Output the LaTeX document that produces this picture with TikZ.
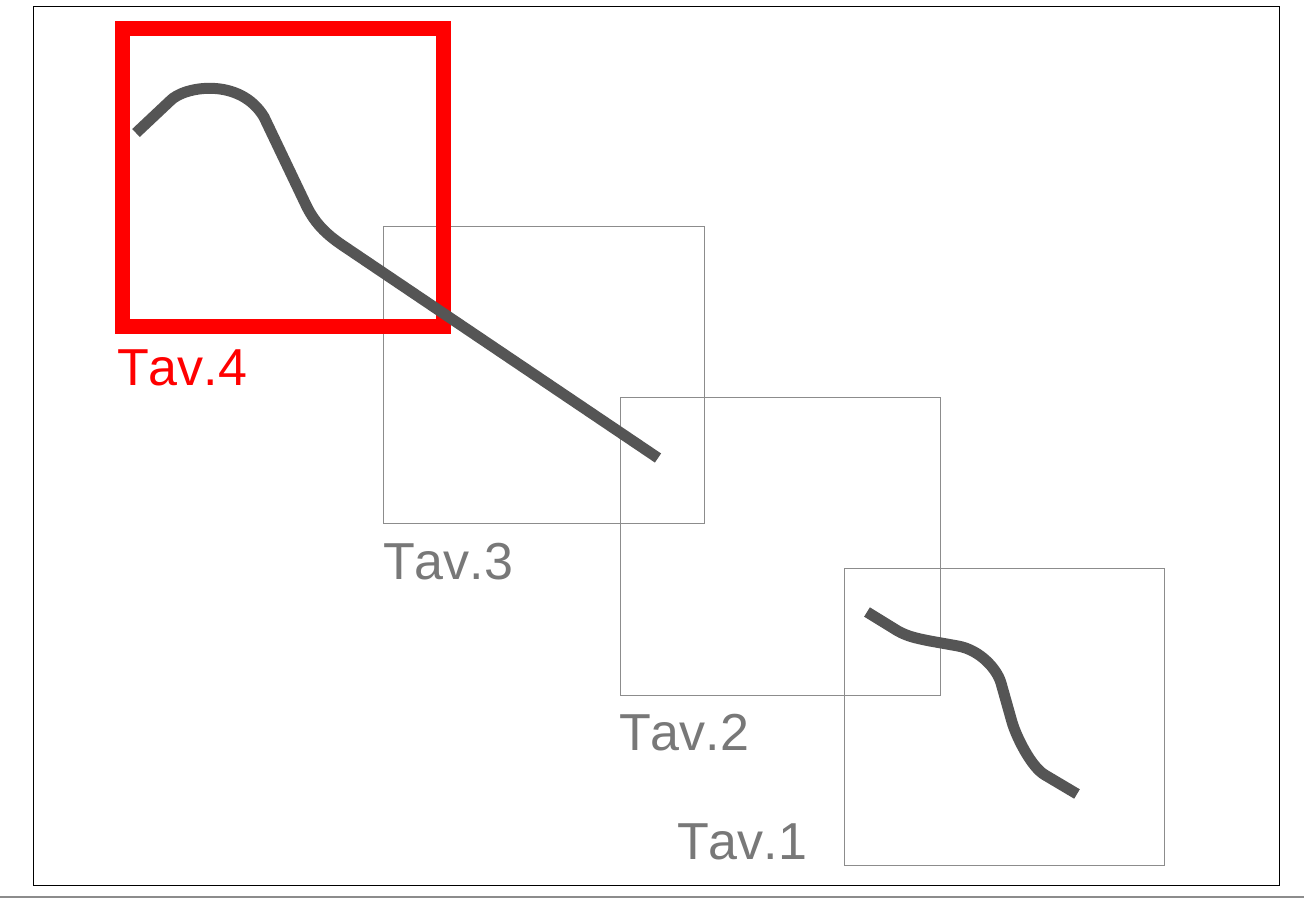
\documentclass[tikz,border=0pt]{standalone}
\usepackage{fontspec}
\setmainfont[Kerning=Off]{Liberation Sans}
\definecolor{curvegray}{HTML}{555555}
\definecolor{txtgray}{HTML}{787878}
\definecolor{boxgray}{HTML}{8C8C8C}
\begin{document}
\begin{tikzpicture}[x=1pt,y=-1pt,
  tav/.style={draw=boxgray,line width=1pt},
  tavlabel/.style={anchor=base west,inner sep=0pt,text=txtgray,font=\fontsize{52}{60}\selectfont},
  path4/.style={draw=curvegray,line width=11pt,line cap=butt,line join=round}]
\useasboundingbox (0,0) rectangle (1304,899);
\fill[white] (0,0) rectangle (1304,899);
% outer frame
\draw[black,line width=1pt] (33,7) rectangle (1279,885);
\draw[boxgray,line width=2pt] (0,897) -- (1304,897);
% boxes
\draw[tav] (383,226) rectangle (704,523);
\draw[tav] (620,397) rectangle (940,695);
\draw[tav] (844,568) rectangle (1164,865);
\draw[red,line width=15pt,line join=miter] (122.5,28.5) rectangle (443,326.5);
% labels
\node[tavlabel,text=red] (l4) at (117,385) {Tav.4};
\node[tavlabel] (l3) at (383,579) {Tav.3};
\node[tavlabel] (l2) at (619,750) {Tav.2};
\node[tavlabel] (l1) at (677,859) {Tav.1};
% curves
\draw[path4] (136,133) -- (170,101) .. controls (184,86) and (240,77) .. (264,117)
  -- (306,205) .. controls (316,226) and (330,237) .. (345,247) -- (658,458);
\draw[path4] (867,612) -- (893,628) .. controls (905,636) and (915,638) .. (930,641)
  -- (958,646) .. controls (980,650) and (997,669) .. (1001,683)
  -- (1012,722) .. controls (1016,736) and (1031,767) .. (1045,775) -- (1077,794);
\end{tikzpicture}
\end{document}
